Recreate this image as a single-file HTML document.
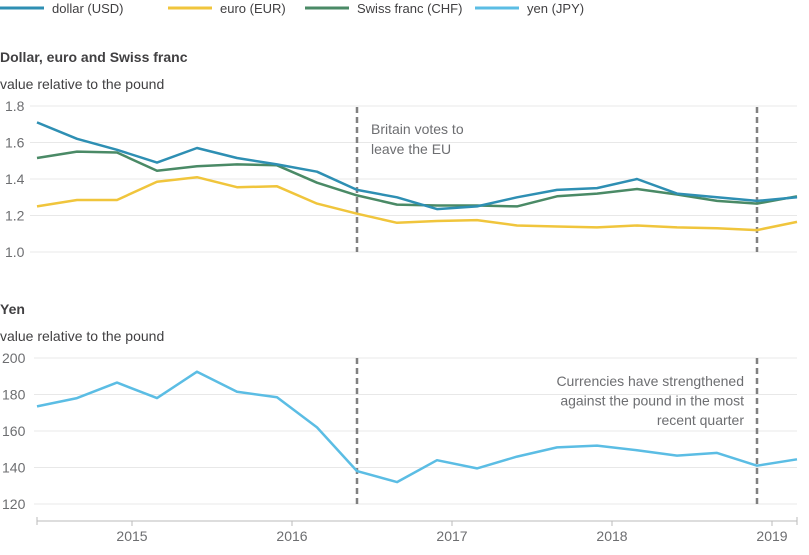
<!DOCTYPE html>
<html><head><meta charset="utf-8">
<style>
body{margin:0;background:#fff;font-family:"Liberation Sans",sans-serif;}
svg text{font-family:"Liberation Sans",sans-serif;}
</style></head>
<body>
<svg id="c" width="809" height="550" xmlns="http://www.w3.org/2000/svg"></svg>
<script>
const quarters = ["2014Q3","2014Q4","2015Q1","2015Q2","2015Q3","2015Q4","2016Q1","2016Q2","2016Q3","2016Q4","2017Q1","2017Q2","2017Q3","2017Q4","2018Q1","2018Q2","2018Q3","2018Q4","2019Q1","2019Q2"];
const usd = [1.71,1.62,1.56,1.49,1.57,1.515,1.48,1.44,1.34,1.30,1.235,1.25,1.30,1.34,1.35,1.40,1.32,1.30,1.28,1.30];
const eur = [1.25,1.285,1.285,1.385,1.41,1.355,1.36,1.265,1.21,1.16,1.17,1.175,1.145,1.14,1.135,1.145,1.135,1.13,1.12,1.165];
const chf = [1.515,1.55,1.545,1.445,1.47,1.48,1.475,1.38,1.31,1.26,1.255,1.255,1.25,1.305,1.32,1.345,1.315,1.28,1.265,1.305];
const jpy = [173.5,178,186.5,178,192.5,181.5,178.5,162,138,132,144,139.5,146,151,152,149.5,146.5,148,141,144.5];
const topTicks = [1.0,1.2,1.4,1.6,1.8];
const botTicks = [120,140,160,180,200];
const years = ["2015","2016","2017","2018","2019"];
const yearPos = [2.375,6.375,10.375,14.375,18.375];
const markers = [8,18];

const svg = document.getElementById('c');
const NS = "http://www.w3.org/2000/svg";
function el(tag, attrs, parent){const e=document.createElementNS(NS,tag);for(const k in attrs)e.setAttribute(k,attrs[k]);(parent||svg).appendChild(e);return e;}
const x = i => 37 + i*(760/19);
const yT = v => 252 - (v-1.0)*(146/0.8);
const yB = v => 504 - (v-120)*(146/80);
const grey = "#414042";

const leg = [["dollar (USD)","#2e8fb3",0],["euro (EUR)","#f0c53c",168],["Swiss franc (CHF)","#4a8a66",305],["yen (JPY)","#5bbde4",475]];
leg.forEach(l=>{
  const g=el('g',{});
  
  
  el('line',{x1:l[2],x2:l[2]+44,y1:8,y2:8,stroke:l[1],'stroke-width':3},g);
  const t=el('text',{x:l[2]+52,y:13,'font-size':13,fill:grey},g);t.textContent=l[0];
});

function txt(s,xx,yy,opt){const t=el('text',Object.assign({x:xx,y:yy,'font-size':13,fill:grey},opt||{}));t.textContent=s;return t;}
const t1=txt("Dollar, euro and Swiss franc",0,62,{'font-weight':'bold','font-size':14});

const s1=txt("value relative to the pound",0,89,{'font-size':14});

const t2=txt("Yen",0,314,{'font-weight':'bold','font-size':14});

const s2=txt("value relative to the pound",0,341,{'font-size':14});


topTicks.forEach(v=>{
  const l=el('line',{x1:30,x2:797,y1:yT(v),y2:yT(v),stroke:'#e8e8e8','stroke-width':1});
  
  const t=txt(v.toFixed(1),5,yT(v)+5,{fill:'#6d6e71','font-size':14});
  
});
botTicks.forEach(v=>{
  const l=el('line',{x1:34,x2:797,y1:yB(v),y2:yB(v),stroke:'#e8e8e8','stroke-width':1});
  
  const t=txt(String(v),2,yB(v)+5,{fill:'#6d6e71','font-size':14});
  
});

const ax=el('line',{x1:37,x2:797,y1:521,y2:521,stroke:'#bbb','stroke-width':1});

[0,19].forEach(i=>{const tk=el('line',{x1:x(i),x2:x(i),y1:517,y2:525,stroke:'#bbb'});});
years.forEach((yv,i)=>{
  const xp=x(yearPos[i]);
  const tk=el('line',{x1:xp,x2:xp,y1:521,y2:526,stroke:'#bbb'});
  
  const t=txt(yv,xp,541,{'text-anchor':'middle',fill:'#6d6e71','font-size':14});
  
});

markers.forEach(i=>{
  const a=el('line',{x1:x(i),x2:x(i),y1:107,y2:252,stroke:'#808080','stroke-width':2.5,'stroke-dasharray':'6,4'});
  
  const b=el('line',{x1:x(i),x2:x(i),y1:358,y2:504,stroke:'#808080','stroke-width':2.5,'stroke-dasharray':'6,4'});
  
});
const a1=txt("Britain votes to",371,134,{fill:'#6d6e71','font-size':14});

const a2=txt("leave the EU",371,154,{fill:'#6d6e71','font-size':14});

["Currencies have strengthened","against the pound in the most","recent quarter"].forEach((s,i)=>{
  const t=txt(s,744,386+i*19.5,{fill:'#6d6e71','font-size':14,'text-anchor':'end'});
  
});

function series(data,yf,color,name){
  const d=data.map((v,i)=>(i?'L':'M')+x(i).toFixed(1)+','+yf(v).toFixed(1)).join(' ');
  const p=el('path',{d:d,fill:'none',stroke:color,'stroke-width':2.5,'stroke-linejoin':'round'});
  
  
}
series(eur,yT,'#f0c53c','euro-line');
series(chf,yT,'#4a8a66','chf-line');
series(usd,yT,'#2e8fb3','usd-line');
series(jpy,yB,'#5bbde4','jpy-line');
</script>
</body></html>
